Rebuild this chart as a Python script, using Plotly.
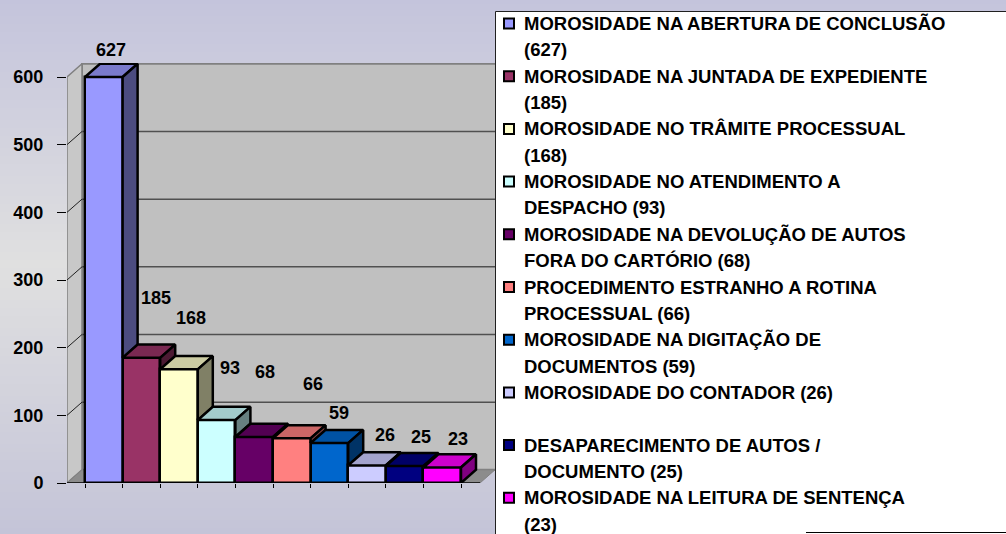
import plotly.graph_objects as go

# ---------------- data ----------------
categories = [
    "MOROSIDADE NA ABERTURA DE CONCLUSÃO",
    "MOROSIDADE NA JUNTADA DE EXPEDIENTE",
    "MOROSIDADE NO TRÂMITE PROCESSUAL",
    "MOROSIDADE NO ATENDIMENTO A DESPACHO",
    "MOROSIDADE NA DEVOLUÇÃO DE AUTOS FORA DO CARTÓRIO",
    "PROCEDIMENTO ESTRANHO A ROTINA PROCESSUAL",
    "MOROSIDADE NA DIGITAÇÃO DE DOCUMENTOS",
    "MOROSIDADE DO CONTADOR",
    "DESAPARECIMENTO DE AUTOS / DOCUMENTO",
    "MOROSIDADE NA LEITURA DE SENTENÇA",
]
values = [627, 185, 168, 93, 68, 66, 59, 26, 25, 23]
y_ticks = [0, 100, 200, 300, 400, 500, 600]

# ---------------- style ----------------
colors = ["#9999FF", "#993366", "#FFFFCC", "#CCFFFF", "#660066",
          "#FF8080", "#0066CC", "#CCCCFF", "#000080", "#FF00FF"]
line1_words = [5, 5, 4, 4, 5, 4, 4, 4, 4, 5]          # legend wrapping
label_nudge = [(7, 27), (15, 60), (12, 51), (13, 52), (11, 65),
               (21, 54), (10, 30), (18, 30), (16, 29), (16, 28)]  # px (x right, y up)
FONT = "Liberation Sans, Arial, sans-serif"
FS = 18
FS_LEG = 18.5

W, H = 1006, 534
ML, MR, MT, MB = 67, 509, 63, 51
PW, PH = W - ML - MR, H - MT - MB
Y_MAX = 600
y_scale = (483 - 77) / Y_MAX           # px per value unit
y_top = PH / y_scale
x_scale = 37.6                          # px per category
x0_px = 103.8                           # pixel centre of first bar
x_min = (ML - x0_px) / x_scale
x_max = (ML + PW - x0_px) / x_scale
DX = 15 / x_scale                       # depth offset (x)
DY = 13.2 / y_scale                     # depth offset (y)
xL = x_min
xR = (480 - x0_px) / x_scale


def px(xp):
    return (xp - ML) / PW


def py(yp):
    return (H - MB - yp) / PH


def hexrgb(h):
    h = h.lstrip("#")
    return tuple(int(h[i:i + 2], 16) for i in (0, 2, 4))


def shade(h, f):
    r, g, b = hexrgb(h)
    return "rgb(%d,%d,%d)" % (round(r * f), round(g * f), round(b * f))


shapes = []

# background gradient (lavender -> light grey -> lavender)
stops = [(0, (196, 196, 220)), (265, (224, 224, 224)), (534, (196, 196, 216))]
band = 4
for yb in range(0, H, band):
    yc = yb + band / 2
    for (a, ca), (b, cb) in zip(stops[:-1], stops[1:]):
        if a <= yc <= b:
            t = (yc - a) / (b - a)
            c = tuple(round(ca[k] + (cb[k] - ca[k]) * t) for k in range(3))
            break
    shapes.append(dict(type="rect", xref="paper", yref="paper", layer="below",
                       x0=px(-5), x1=px(W + 5), y0=py(yb), y1=py(yb + band + 0.6),
                       fillcolor="rgb(%d,%d,%d)" % c, line=dict(width=0)))


def poly(pts):
    return "M " + " L ".join("%f,%f" % p for p in pts) + " Z"


# back wall
shapes.append(dict(type="path", xref="x", yref="y", layer="below",
                   path=poly([(xL + DX, DY), (x_max + 1, DY), (x_max + 1, Y_MAX + DY), (xL + DX, Y_MAX + DY)]),
                   fillcolor="#C0C0C0", line=dict(color="#808080", width=2)))
# left wall
shapes.append(dict(type="path", xref="x", yref="y", layer="below",
                   path=poly([(xL, 0), (xL, Y_MAX), (xL + DX, Y_MAX + DY), (xL + DX, DY)]),
                   fillcolor="#C8C8C8", line=dict(color="#808080", width=1.5)))
# floor
shapes.append(dict(type="path", xref="x", yref="y", layer="below",
                   path=poly([(xL, 0), (xR, 0), (xR + DX, DY), (xL + DX, DY)]),
                   fillcolor="#8C8C8C", line=dict(color="#808080", width=1)))
# gridlines on back wall and depth lines on left wall
for v in y_ticks[1:-1]:
    shapes.append(dict(type="line", xref="x", yref="y", layer="below",
                       x0=xL + DX, x1=x_max + 1, y0=v + DY, y1=v + DY,
                       line=dict(color="#505050", width=1.5)))
    shapes.append(dict(type="line", xref="x", yref="y", layer="below",
                       x0=xL, x1=xL + DX, y0=v, y1=v + DY,
                       line=dict(color="#202020", width=1)))
# front axis line
shapes.append(dict(type="line", xref="x", yref="y", layer="below",
                   x0=xL, x1=xR, y0=0, y1=0, line=dict(color="black", width=1.5)))

fig = go.Figure()

disp = [min(v, Y_MAX) for v in values]
n = len(values)

# front faces
fig.add_trace(go.Bar(x=list(range(n)), y=disp, width=1,
                     marker=dict(color=colors, line=dict(color="black", width=2.5)),
                     hoverinfo="skip", showlegend=False))

# top and side faces
for i, h in enumerate(disp):
    hn = disp[i + 1] if i + 1 < n else 0
    top = [(i - 0.5, h), (i + 0.5, h), (i + 0.5 + DX, h + DY), (i - 0.5 + DX, h + DY), (i - 0.5, h)]
    fig.add_trace(go.Scatter(x=[p[0] for p in top], y=[p[1] for p in top], mode="lines",
                             fill="toself", fillcolor=shade(colors[i], 0.8),
                             line=dict(color="black", width=2.5), hoverinfo="skip", showlegend=False))
    if h > hn:
        side = [(i + 0.5, hn), (i + 0.5, h), (i + 0.5 + DX, h + DY), (i + 0.5 + DX, hn + DY), (i + 0.5, hn)]
        fig.add_trace(go.Scatter(x=[p[0] for p in side], y=[p[1] for p in side], mode="lines",
                                 fill="toself", fillcolor=shade(colors[i], 0.5),
                                 line=dict(color="black", width=2.5), hoverinfo="skip", showlegend=False))

annotations = []
# data labels
for i, (v, h) in enumerate(zip(values, disp)):
    nx, ny = label_nudge[i]
    annotations.append(dict(x=i, y=h, xref="x", yref="y", text=str(v), showarrow=False,
                            xanchor="center", yanchor="middle", xshift=nx, yshift=ny,
                            font=dict(family=FONT, size=FS, color="black", weight="bold")))

# legend box
shapes.append(dict(type="rect", xref="paper", yref="paper", layer="above",
                   x0=px(495.5), x1=px(W + 10), y0=py(11.5), y1=py(H + 10),
                   fillcolor="white", line=dict(color="#202020", width=1)))
shapes.append(dict(type="line", xref="paper", yref="paper", layer="above",
                   x0=px(806), x1=px(W), y0=py(532.5), y1=py(532.5),
                   line=dict(color="black", width=1)))
line_h = 26.35
for k, (cat, v) in enumerate(zip(categories, values)):
    words = ("%s (%d)" % (cat, v)).split(" ")
    l1 = " ".join(words[:line1_words[k]])
    l2 = " ".join(words[line1_words[k]:])
    yc1 = 23.5 + line_h * 2 * k
    shapes.append(dict(type="rect", xref="paper", yref="paper", layer="above",
                       x0=px(504), x1=px(514), y0=py(yc1 - 5), y1=py(yc1 + 5),
                       fillcolor=colors[k], line=dict(color="black", width=2)))
    for j, txt in enumerate([l1, l2]):
        if not txt:
            continue
        annotations.append(dict(x=px(522), y=py(yc1 + j * line_h), xref="paper", yref="paper",
                                text=txt, showarrow=False, xanchor="left", yanchor="middle",
                                font=dict(family=FONT, size=FS_LEG, color="black", weight="bold")))

fig.update_layout(
    template="none",
    width=W, height=H,
    margin=dict(l=ML, r=MR, t=MT, b=MB, pad=0),
    paper_bgcolor="rgba(0,0,0,0)",
    plot_bgcolor="rgba(0,0,0,0)",
    barmode="overlay", bargap=0,
    showlegend=False,
    shapes=shapes,
    annotations=annotations,
    font=dict(family=FONT, size=FS, color="black"),
    xaxis=dict(range=[x_min, x_max], showgrid=False, zeroline=False, showline=False,
               tickmode="array", tickvals=[i - 0.5 for i in range(n + 1)], ticktext=[""] * (n + 1),
               ticks="outside", ticklen=4, tickcolor="black", tickwidth=1,
               automargin=False, fixedrange=True),
    yaxis=dict(range=[0, y_top], showgrid=False, zeroline=False, showline=False,
               tickmode="array", tickvals=y_ticks, ticktext=[str(t) for t in y_ticks],
               ticks="outside", ticklen=9, tickcolor="black", tickwidth=1,
               ticklabelstandoff=10,
               tickfont=dict(family=FONT, size=FS, color="black", weight="bold"),
               automargin=False, fixedrange=True),
)

fig.write_html("out.html", config={"displayModeBar": False},
               post_script="document.body.style.margin='0';document.body.style.padding='0';"
                           "document.body.style.overflow='hidden';")
